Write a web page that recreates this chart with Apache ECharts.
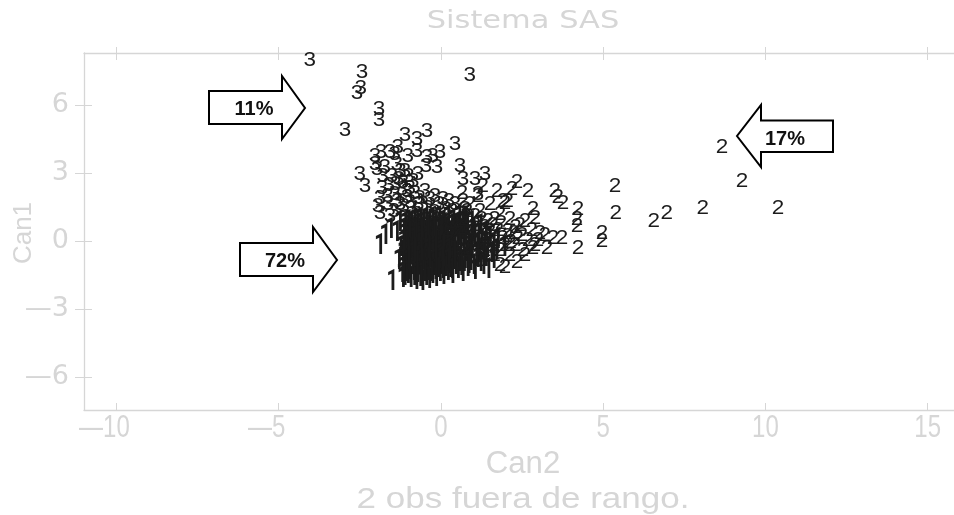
<!DOCTYPE html>
<html><head><meta charset="utf-8">
<style>html,body{margin:0;padding:0;background:#fff}#c{width:954px;height:515px}</style>
<script src="https://cdn.jsdelivr.net/npm/echarts@6/dist/echarts.min.js"></script></head>
<body><div id="c"></div><script>
const xTicks=[-10,-5,0,5,10,15];
const yTicks=[-6,-3,0,3,6];
const group3=[[-4.04,7.97],[-2.43,7.44],[-2.47,6.7],[-2.59,6.48],[-1.91,5.77],[-1.91,5.29],[-2.96,4.85],[.89,7.27],[-1.11,4.63],[-.74,4.49],[-.43,4.8],[.43,4.23],[-2.03,3.74],[-1.85,3.88],[-1.57,3.88],[-1.33,4.1],[-1.42,3.79],[-1.02,3.7],[-.74,3.92],[-.03,3.88],[-.43,3.66],[-.25,3.7],[-.12,3.22],[-.46,3.26],[.59,3.3],[.68,2.69],[1.05,2.73],[1.36,2.95],[-2.5,2.91],[-2.34,2.38],[-1.97,3.13],[-1.73,3.22],[-1.11,3.04],[-.71,2.91],[-1.82,2.33],[-1.79,2.82],[-1.17,2.56],[-.96,2.33],[-1.88,1.89],[-1.42,2.03],[-.65,1.89],[-.18,1.94],[.06,1.81],[1.14,2.03],[-1.88,1.23],[-1.57,1.06],[-1.94,1.5],[-1.26,1.59],[-.89,1.45],[-.49,2.16],[-1.51,2.86],[-.34,1.81],[.43,1.59],[.74,1.37],[-1.36,3.35],[-1.2,2.25],[-1.63,1.59],[-2.03,3.35],[-1.05,1.9],[-.75,1.15],[-.55,1.6],[-1.45,1.3],[-1.1,1.05],[-.2,1.25],[.15,1.4],[-.85,2.6],[-1.3,2.7],[-1.6,2.45],[-1.25,3.05],[-1,2.85],[-1.4,2.5],[-1.05,2.2],[-.8,2.1],[-1.65,1.95],[-1.35,1.75],[-1.15,1.5],[-.95,1.7],[-.7,1.6],[-.4,1.45],[-.05,1.6],[.25,1.75]];
const group2=[[8.66,4.1],[9.28,2.6],[8.07,1.45],[10.39,1.41],[6.96,1.19],[6.56,.84],[5.36,2.42],[5.39,1.23],[3.51,2.16],[3.6,1.9],[3.76,1.63],[4.22,1.37],[4.19,.93],[4.19,.62],[4.96,.35],[4.96,-.04],[4.22,-.31],[3.73,.13],[3.45,.13],[3.2,.26],[3.27,-.31],[2.84,1.37],[2.9,1.01],[2.59,.84],[2.68,2.2],[2.34,2.56],[2.19,2.25],[1.73,2.16],[2.06,1.72],[1.91,1.72],[1.97,1.67],[2.8,.48],[3.05,.35],[2.84,-.31],[2.53,-.4],[2.34,-.93],[1.97,-1.15],[1.82,-1.06],[1.29,2.38],[.65,2.11],[1.14,1.94],[.68,1.72],[.89,1.59],[1.2,1.28],[1.51,1.59],[1.82,1.15],[2.13,.93],[2.43,.7],[.59,1.15],[1.05,.7],[1.45,.84],[1.76,.48],[2.06,.4],[2.37,.13],[2.68,.04],[2.99,.04],[.89,.26],[1.26,.13],[1.66,.04],[1.97,-.18],[2.28,-.18],[2.59,-.62],[2.9,-.18],[.59,.57],[.28,.84],[1.36,-.4],[1.66,-.62],[2.13,-.62],[1.2,-.84],[.74,-.4],[1.82,-.4],[1.51,.4],[1.05,1.1],[1.35,.6],[1.65,.95],[.35,1.3],[.7,.95],[2.25,.35],[2.5,.25],[1.1,-.15],[.95,.55],[1.9,.1],[2.15,-.05],[1.55,-.2],[.45,.2],[.2,.45],[1.25,.95],[1.6,.7],[2.3,.6],[1.85,.75],[2.05,.2],[1.4,.25],[.95,.05],[.55,.85],[.8,1.3]];
const group1=[[-1.88,-.26],[-1.5,-1.85],[-1.72,.2],[-1.55,.45],[-1.36,.3],[-1.3,-.9],[-1.25,-.35],[-1.27,.75],[-1.18,-1.72],
[-1.12,-1.6],[-1.02,-1.55],[-.94,-1.72],[-.83,-1.62],[-.76,-1.78],[-.65,-1.66],[-.58,-1.82],[-.46,-1.6],[-.37,-1.75],[-.27,-1.52],[-.15,-1.66],[-.04,-1.45],[.07,-1.58],[.21,-1.38],[.35,-1.52],[.52,-1.3],[.66,-1.45],[.82,-1.22],[1.04,-1.36],[1.3,-1.15],[1.46,-1.32],
[-1.15,-1.2],[-1.06,-1.1],[-.97,-1.26],[-.88,-1.15],[-.79,-1.28],[-.68,-1.08],[-.61,-1.22],[-.5,-1.12],[-.41,-1.25],[-.31,-1.05],[-.2,-1.18],[-.11,-1.02],[.02,-1.12],[.14,-.98],[.27,-1.1],[.39,-.92],[.58,-.98],[.73,-.86],[.91,-.96],[1.13,-.82],[1.38,-.78],[1.62,-.88],
[-1.16,-.75],[-1.07,-.62],[-.99,-.78],[-.9,-.66],[-.81,-.8],[-.71,-.6],[-.63,-.74],[-.54,-.62],[-.44,-.78],[-.35,-.58],[-.24,-.72],[-.13,-.55],[-.03,-.7],[.09,-.52],[.2,-.66],[.32,-.5],[.46,-.62],[.6,-.46],[.77,-.58],[.95,-.42],[1.18,-.5],[1.42,-.38],[1.7,-.46],[1.95,-.32],
[-1.14,-.28],[-1.05,-.16],[-.96,-.3],[-.87,-.18],[-.78,-.34],[-.69,-.14],[-.6,-.28],[-.51,-.12],[-.42,-.26],[-.33,-.08],[-.22,-.24],[-.12,-.06],[0,-.2],[.11,-.04],[.24,-.18],[.37,-.02],[.5,-.14],[.68,.02],[.84,-.1],[1.03,.05],[1.24,-.06],[1.5,.1],[1.75,.02],
[-1.13,.22],[-1.03,.34],[-.94,.18],[-.85,.3],[-.76,.14],[-.67,.36],[-.58,.2],[-.49,.38],[-.4,.24],[-.3,.42],[-.19,.26],[-.08,.44],[.04,.3],[.16,.48],[.3,.34],[.44,.52],[.62,.4],[.8,.58],[1,.46],[1.22,.62],
[-1.1,.7],[-1,.82],[-.92,.68],[-.82,.84],[-.73,.66],[-.64,.88],[-.55,.72],[-.45,.9],[-.36,.74],[-.25,.94],[-.16,.78],[-.05,.98],[.08,.82],[.22,1],[.38,.86],[.56,1.02],[.76,.92],
[-1.1,-.95],[-.86,-.92],[-.66,-.96],[-.45,-.9],[-.25,-.94],[-.05,-.88],[-1.12,-.45],[-.9,-.44],[-.72,-.42],[-.5,-.4],[-.28,-.4],[-.06,-.36],[.15,-.34],[-1.1,.02],[-.9,.04],[-.7,.08],[-.48,.1],[-.26,.12],[-.04,.14],[.2,.16],[.42,.18],[-1.06,-1.42],[-.84,-1.4],[-.62,-1.44],[-.4,-1.38],[-.18,-1.36],[.05,-1.3],[.28,-1.26],[.45,-1.12],[.62,-1.18],[.85,-1.08],
[-1.2,-1.48],[-.99,-1.35],[-.73,-1.48],[-.52,-1.42],[-.3,-1.46],[-.09,-1.28],[.13,-1.22],[.33,-1.3],[.7,-1.02],[1,-1.14],[1.22,-.98],[-1.17,-1.02],[-1.01,-.9],[-.75,-1.02],[-.56,-.92],[-.35,-.84],[-.16,-.86],[.06,-.8],[.23,-.86],[.42,-.76],[.55,-.76],[.86,-.72],[1.08,-.65],[1.3,-.6],[1.55,-.62],[-1.18,-.54],[-1,-.5],[-.82,-.56],[-.6,-.5],[-.39,-.44],[-.17,-.42],[.03,-.46],[.25,-.42],[.41,-.36],[.7,-.24],[.9,-.26],[1.12,-.22],[1.35,-.18],[1.62,-.22],[-1.16,-.06],[-1.02,.1],[-.82,.06],[-.62,.02],[-.38,.06],[-.17,.1],[.07,.1],[.3,.1],[.56,.14],[.75,.2],[.95,.24],[1.15,.22],[1.38,.3],[-1.15,.46],[-.97,.5],[-.78,.48],[-.6,.5],[-.41,.58],[-.22,.56],[0,.6],[.12,.66],[.34,.62],[.52,.72],[.7,.75],[.95,.78]];
const COL='#d6d6d6',DOT='#1c1c1c';
const FONT='Liberation Sans';
const marker=(t,sx,sy,size,family,weight)=>(p,api)=>{const c=api.coord([api.value(0),api.value(1)]);return {type:'text',x:c[0],y:c[1],scaleX:sx,scaleY:sy,
  style:{text:t,fontFamily:family,fontWeight:weight,fontSize:size,fill:DOT,align:'center',verticalAlign:'middle'}};};
const ser=(name,data,t,sx,sy,size,family,weight)=>({type:'custom',name,data,renderItem:marker(t,sx,sy,size,family,weight),encode:{x:0,y:1},clip:false,animation:false,silent:true});
const dash=v=>String(v).replace('-','\u2014');
const line={show:true,onZero:false,lineStyle:{color:COL,width:1.3}};
const hiddenX=(inside,len,on)=>({type:'value',position:'top',min:-11,max:15.81,splitLine:{show:false},axisLine:on?line:{show:false,onZero:false},axisLabel:{show:false},
  axisTick:{show:true,inside,length:len,customValues:xTicks,lineStyle:{color:COL}}});
const xLabels={type:'custom',name:'xTickLabels',data:xTicks.map(v=>[v]),silent:true,clip:false,encode:{x:0},
  renderItem:(p,api)=>{const v=api.value(0);const c=api.coord([v,0]);return {type:'text',x:c[0]-(v<0?12:0),y:429,scaleX:1,scaleY:1.28,
    style:{text:dash(v),fontFamily:FONT,fontSize:24,fill:COL,align:'center',verticalAlign:'middle'}};}};
const arrow=(pts)=>({type:'polygon',shape:{points:pts},style:{fill:'#fff',stroke:'#000',lineWidth:2},z:50});
const lbl=(t,x,y)=>({type:'text',x,y,style:{text:t,fontFamily:FONT,fontWeight:'bold',fontSize:20,fill:'#111',align:'center',verticalAlign:'middle'},z:51});
const stretched=(t,x,y,size,sx,sy,family)=>({type:'text',x,y,scaleX:sx,scaleY:sy,style:{text:t,fontFamily:family||FONT,fontSize:size,fill:COL,align:'center',verticalAlign:'middle'}});
echarts.init(document.getElementById('c')).setOption({
  animation:false,backgroundColor:'#fff',
  grid:{left:84,right:0,top:53,bottom:105,outerBoundsMode:'none'},
  xAxis:[{type:'value',min:-11,max:15.81,splitLine:{show:false},axisLine:line,axisLabel:{show:false},
    axisTick:{show:true,inside:true,length:7,customValues:xTicks,lineStyle:{color:COL}}},
    hiddenX(false,6,true),hiddenX(true,7,false)],
  yAxis:[{type:'value',min:-7.44,max:8.28,splitLine:{show:false},axisLine:line,
    axisTick:{show:true,inside:false,length:9,customValues:yTicks,lineStyle:{color:COL}},
    axisLabel:{customValues:yTicks,formatter:dash,color:COL,fontFamily:'DejaVu Sans',fontSize:27,margin:15}},
    {type:'value',position:'left',min:-7.44,max:8.28,splitLine:{show:false},axisLine:{show:false,onZero:false},axisLabel:{show:false},
    axisTick:{show:true,inside:true,length:8,customValues:yTicks,lineStyle:{color:COL}}}],
  series:[xLabels,ser('1',group1,'1',1,1.45,20,'Roboto','bold'),ser('2',group2,'2',1.25,1.1,18,FONT,'normal'),ser('3',group3,'3',1.25,1.1,18,FONT,'normal')],
  graphic:[stretched('Sistema SAS',523,22,24,1.27,1,'DejaVu Sans'),stretched('Can2',523,464,26,1.2,1.2),stretched('2 obs fuera de rango.',523,500,24,1.46,1.2),
    {type:'text',x:24,y:233,rotation:Math.PI/2,style:{text:'Can1',fontFamily:FONT,fontSize:26,fill:COL,align:'center',verticalAlign:'middle'}},
    arrow([[209,91],[282,91],[282,76],[305,108],[282,139],[282,124],[209,124]]),lbl('11%',254,109),
    arrow([[240,243],[313,243],[313,227],[337,260],[313,292],[313,276],[240,276]]),lbl('72%',285,261),
    arrow([[833,120.5],[761,120.5],[761,105],[737,136],[761,167],[761,152],[833,152]]),lbl('17%',785,139)]
});
</script></body></html>
